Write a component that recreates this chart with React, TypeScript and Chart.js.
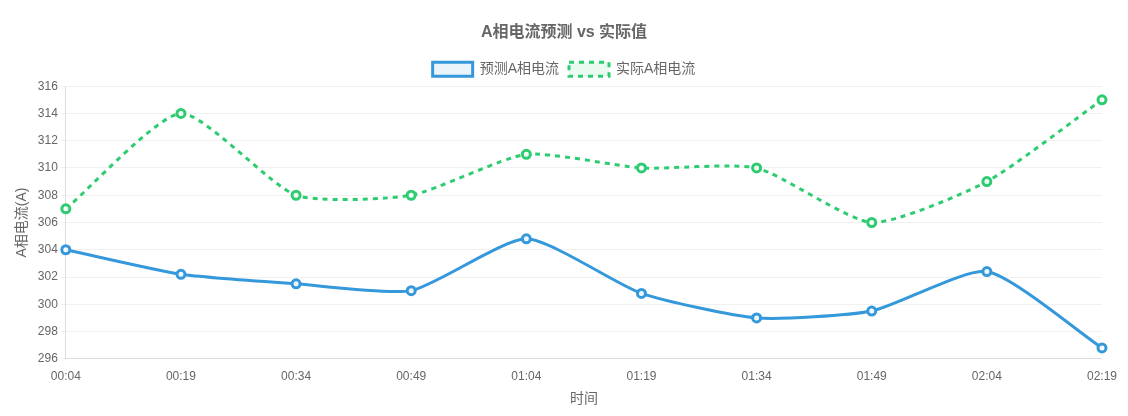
import React, { useEffect, useRef } from "react";
import { Chart, registerables } from "chart.js";

Chart.register(...registerables);

const timeLabels = ["00:04", "00:19", "00:34", "00:49", "01:04", "01:19", "01:34", "01:49", "02:04", "02:19"];
const predictedCurrent = [304.0, 302.2, 301.5, 301.0, 304.8, 300.8, 299.0, 299.5, 302.4, 296.8];
const actualCurrent = [307, 314, 308, 308, 311, 310, 310, 306, 309, 315];

const FONT = "'Liberation Sans', Arial, 'Noto Sans CJK SC', sans-serif";

export default function App() {
  const canvasRef = useRef<HTMLCanvasElement | null>(null);

  useEffect(() => {
    if (!canvasRef.current) return;
    Chart.defaults.font.family = FONT;
    Chart.defaults.color = "#666";
    const chart = new Chart(canvasRef.current, {
      type: "line",
      data: {
        labels: timeLabels,
        datasets: [
          {
            label: "预测A相电流",
            data: predictedCurrent,
            borderColor: "#3498db",
            backgroundColor: "rgba(52,152,219,0.1)",
            borderWidth: 3,
            tension: 0.2,
            pointRadius: 4,
            pointBorderWidth: 3,
            pointBackgroundColor: "rgba(255,255,255,0.9)",
            fill: false,
          },
          {
            label: "实际A相电流",
            data: actualCurrent,
            borderColor: "#2ecc71",
            backgroundColor: "rgba(46,204,113,0.1)",
            borderWidth: 3,
            borderDash: [5, 5],
            tension: 0.2,
            pointRadius: 4,
            pointBorderWidth: 3,
            pointBackgroundColor: "rgba(255,255,255,0.9)",
            fill: false,
          },
        ],
      },
      options: {
        animation: false,
        responsive: true,
        maintainAspectRatio: false,
        layout: { padding: { top: 5, left: 2, right: 2, bottom: 0 } },
        plugins: {
          title: {
            display: true,
            text: "A相电流预测 vs 实际值",
            font: { size: 16, weight: "bold" },
            color: "#666",
          },
          legend: {
            labels: { font: { size: 14 }, color: "#666", boxWidth: 40, boxHeight: 14 },
          },
          tooltip: { enabled: false },
        },
        scales: {
          x: {
            grid: { display: false },
            border: { color: "#ddd" },
            ticks: { font: { size: 12 }, color: "#666" },
            title: { display: true, text: "时间", font: { size: 14 }, color: "#666" },
          },
          y: {
            min: 296,
            max: 316,
            grid: { color: "rgba(0,0,0,0.06)", tickLength: 5 },
            border: { color: "#ddd" },
            ticks: { stepSize: 2, font: { size: 12 }, color: "#666" },
            title: { display: true, text: "A相电流(A)", font: { size: 14 }, color: "#666" },
          },
        },
      },
    });
    return () => chart.destroy();
  }, []);

  return (
    <div style={{ width: 1112, height: 404, position: "relative" }}>
      <canvas ref={canvasRef} />
    </div>
  );
}
